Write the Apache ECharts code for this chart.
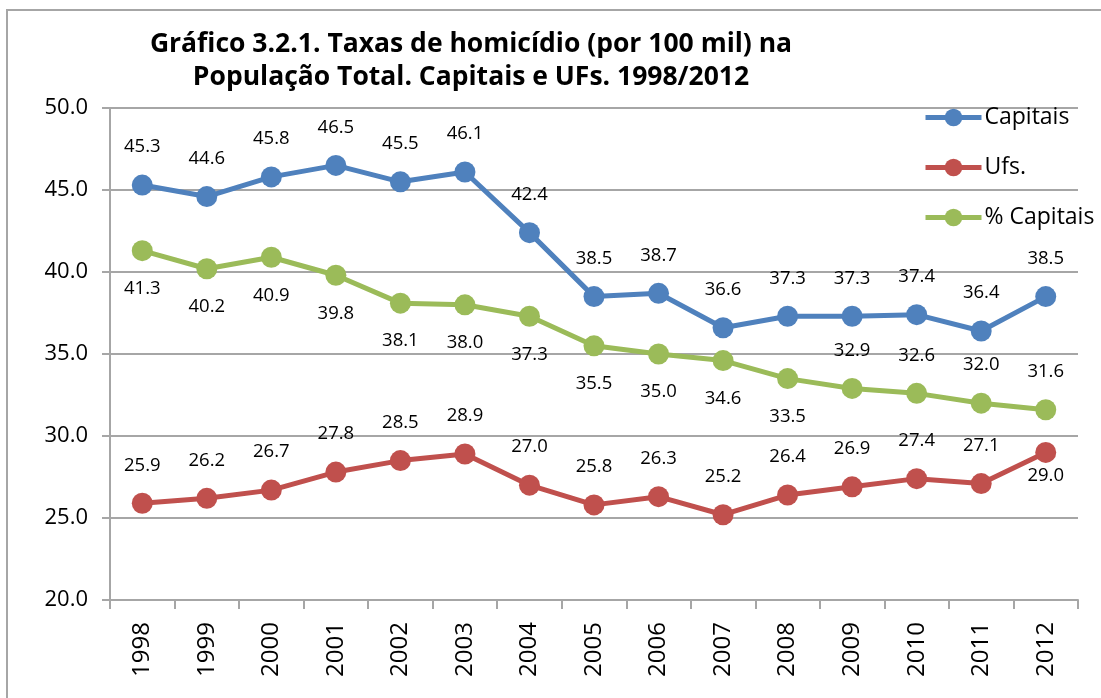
<!DOCTYPE html>
<html style="height: 100%" lang="pt-BR">
    <head>
        <title>Taxas de homicídio</title>
        <meta charset="utf-8">
        <script src="https://cdn.jsdelivr.net/npm/echarts@6/dist/echarts.min.js"></script>
    </head>
    <body style="height: 100%; margin: 0">
        <div id="container" style="width: 1101px; height: 698px"></div>
        <script type="text/javascript">
        // dados
        var anos = ['1998', '1999', '2000', '2001', '2002', '2003', '2004', '2005', '2006', '2007', '2008', '2009', '2010', '2011', '2012'];
        var capitais = [45.3, 44.6, 45.8, 46.5, 45.5, 46.1, 42.4, 38.5, 38.7, 36.6, 37.3, 37.3, 37.4, 36.4, 38.5];
        var ufs = [25.9, 26.2, 26.7, 27.8, 28.5, 28.9, 27.0, 25.8, 26.3, 25.2, 26.4, 26.9, 27.4, 27.1, 29.0];
        var pctCapitais = [41.3, 40.2, 40.9, 39.8, 38.1, 38.0, 37.3, 35.5, 35.0, 34.6, 33.5, 32.9, 32.6, 32.0, 31.6];

        var myChart = echarts.init(document.getElementById('container'));
        var fonte = '"Open Sans", sans-serif';

        function serie(nome, valores, cor, rotulo) {
            return {
                name: nome,
                type: 'line',
                data: valores.map(function (v, i) {
                    var item = { value: v };
                    var pos = rotulo(i);
                    if (pos) item.label = pos;
                    return item;
                }),
                symbol: 'circle',
                symbolSize: 21,
                lineStyle: { width: 5, color: cor },
                itemStyle: { color: cor },
                label: {
                    show: true,
                    position: 'top',
                    distance: 18,
                    fontSize: 18.5,
                    fontFamily: fonte,
                    color: '#000',
                    formatter: function (p) { return p.value.toFixed(1); }
                }
            };
        }

        var option = {
            animation: false,
            backgroundColor: '#fff',
            graphic: [
                {
                    type: 'rect',
                    shape: { x: 7, y: 10, width: 1100, height: 700 },
                    style: { fill: 'none', stroke: '#a6a6a6', lineWidth: 2 },
                    silent: true
                },
                {
                    type: 'text',
                    x: 471, y: 28,
                    style: {
                        text: 'Gráfico 3.2.1. Taxas de homicídio (por 100 mil) na\nPopulação Total. Capitais e UFs. 1998/2012',
                        textAlign: 'center',
                        font: 'bold 26.5px "Open Sans", sans-serif',
                        lineHeight: 33,
                        fill: '#000'
                    }
                }
            ],
            legend: {
                orient: 'vertical',
                left: 918,
                top: 101,
                itemWidth: 56,
                itemHeight: 22,
                itemGap: 27,
                lineStyle: { width: 5 },
                textStyle: { fontSize: 23, fontFamily: fonte, color: '#000', padding: [0, 0, 0, -2] },
                data: ['Capitais', 'Ufs.', '% Capitais']
            },
            grid: { left: 110, right: 23, top: 108, bottom: 98 },
            xAxis: {
                type: 'category',
                data: anos,
                boundaryGap: true,
                axisLine: { lineStyle: { color: '#a6a6a6', width: 2 } },
                axisTick: { show: true, length: 9, inside: false, lineStyle: { color: '#a6a6a6', width: 2 } },
                axisLabel: { rotate: 90, margin: 22, fontSize: 24, fontFamily: fonte, color: '#000' }
            },
            yAxis: {
                type: 'value',
                min: 20,
                max: 50,
                interval: 5,
                axisLine: { show: true, lineStyle: { color: '#a6a6a6', width: 2 } },
                axisTick: { show: true, length: 8, lineStyle: { color: '#a6a6a6', width: 2 } },
                splitLine: { lineStyle: { color: '#a6a6a6', width: 2 } },
                axisLabel: {
                    margin: 22, fontSize: 22, fontFamily: fonte, color: '#000',
                    formatter: function (v) { return v.toFixed(1); }
                }
            },
            series: [
                serie('Capitais', capitais, '#4f81bd', function () { return null; }),
                serie('Ufs.', ufs, '#c0504d', function (i) {
                    return i === ufs.length - 1 ? { position: 'bottom', distance: 3 } : null;
                }),
                serie('% Capitais', pctCapitais, '#9bbb59', function (i) {
                    return i < 11 ? { position: 'bottom', distance: 18 } : null;
                })
            ]
        };
        myChart.setOption(option);
        </script>
    </body>
</html>
